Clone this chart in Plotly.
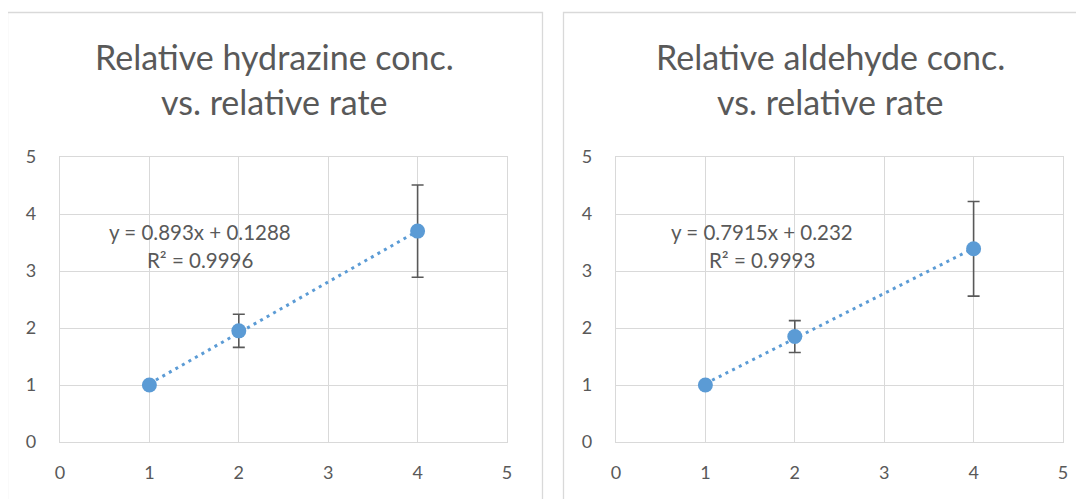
import plotly.graph_objects as go

W, H = 1084, 499
OFF = 8  # page body margin offset observed in the rendered page

# Data
title_lines = [["Relative hydrazine conc.", "vs. relative rate"],
               ["Relative aldehyde conc.", "vs. relative rate"]]
x_vals = [1, 2, 4]
y_hydrazine = [1.0, 1.95, 3.70]
err_hydrazine = [0.0, 0.29, 0.81]
y_aldehyde = [1.0, 1.85, 3.39]
err_aldehyde = [0.0, 0.28, 0.83]
slopes = [0.893, 0.7915]
intercepts = [0.1288, 0.232]
eq_lines = [["y = 0.893x + 0.1288", "R² = 0.9996"],
            ["y = 0.7915x + 0.232", "R² = 0.9993"]]
ticks = [0, 1, 2, 3, 4, 5]

BLUE = "#5B9BD5"
GRID = "#D9D9D9"
TXT = "#595959"
FONT = "Lato"

def px_x(p):
    return (p - OFF) / W

def px_y(p):
    return (H - (p - OFF)) / H

fig = go.Figure()

series = [(y_hydrazine, err_hydrazine), (y_aldehyde, err_aldehyde)]
for i, (ys, es) in enumerate(series):
    xa = "x" if i == 0 else "x2"
    ya = "y" if i == 0 else "y2"
    tx = [x_vals[0], x_vals[-1]]
    ty = [slopes[i] * v + intercepts[i] for v in tx]
    fig.add_trace(go.Scatter(x=tx, y=ty, mode="lines", xaxis=xa, yaxis=ya,
                             line=dict(color=BLUE, width=3, dash="3px,4.5px"),
                             showlegend=False, hoverinfo="skip"))
    fig.add_trace(go.Scatter(x=x_vals, y=ys, mode="markers", xaxis=xa, yaxis=ya,
                             marker=dict(color=BLUE, size=15),
                             error_y=dict(type="data", array=es, visible=True,
                                          color=TXT, thickness=1.6, width=6),
                             showlegend=False))

y_dom = [px_y(442), px_y(157)]
axis_common = dict(range=[0, 5], tickvals=ticks, showgrid=True, gridcolor=GRID, gridwidth=1.3,
                   zeroline=False, showline=True, linecolor=GRID, linewidth=1.3, mirror=True,
                   ticks="", tickfont=dict(family=FONT, size=18, color=TXT), fixedrange=True,
                   automargin=False)

fig.update_layout(
    width=W, height=H, autosize=False, margin=dict(l=0, r=0, t=0, b=0, pad=0),
    paper_bgcolor="white", plot_bgcolor="white",
    xaxis=dict(domain=[px_x(60), px_x(507)], anchor="y", ticklabelstandoff=14, **axis_common),
    yaxis=dict(domain=y_dom, anchor="x", ticklabelstandoff=19, **axis_common),
    xaxis2=dict(domain=[px_x(616), px_x(1063)], anchor="y2", ticklabelstandoff=14, **axis_common),
    yaxis2=dict(domain=y_dom, anchor="x2", ticklabelstandoff=19, **axis_common),
)

# panel borders
for x0, x1 in [(7.5, 542.5), (563.5, 1100)]:
    fig.add_shape(type="rect", xref="paper", yref="paper",
                  x0=px_x(x0), x1=px_x(x1), y0=-0.2, y1=px_y(12.5),
                  line=dict(color=GRID, width=1.3), fillcolor="rgba(0,0,0,0)", layer="below")

# titles
for cx, lines in zip([274.5, 830.5], title_lines):
    for cy, t in zip([57, 102], lines):
        fig.add_annotation(x=px_x(cx), y=px_y(cy), xref="paper", yref="paper",
                           text=t, showarrow=False, xanchor="center", yanchor="middle",
                           font=dict(family=FONT, size=34, color=TXT))

# equation labels
for cx, lines in zip([199.5, 762], eq_lines):
    for cy, t in zip([232, 260], lines):
        fig.add_annotation(x=px_x(cx), y=px_y(cy), xref="paper", yref="paper",
                           text=t, showarrow=False, xanchor="center", yanchor="middle",
                           font=dict(family=FONT, size=20.5, color=TXT))

fig.write_html("out.html")
